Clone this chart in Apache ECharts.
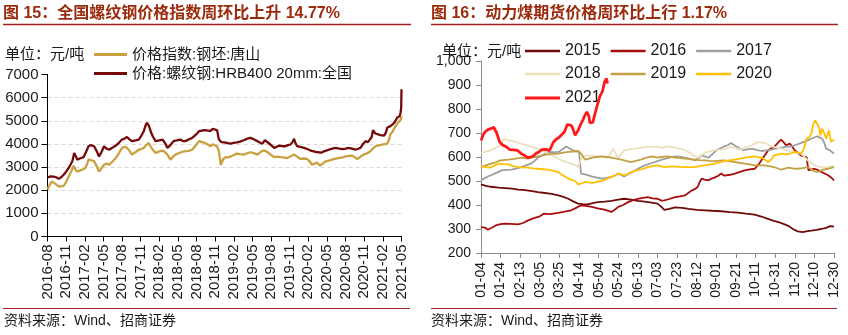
<!DOCTYPE html>
<html><head><meta charset="utf-8">
<script src="https://cdn.jsdelivr.net/npm/echarts@6/dist/echarts.min.js"></script>
<style>html,body{margin:0;padding:0;background:#fff}#c{width:848px;height:335px}</style>
</head><body><div id="c"></div>
<script>
// ---------- Data: left chart (month index 0 = 2016-08) ----------
const leftTickLabels = ['2016-08','2016-11','2017-02','2017-05','2017-08','2017-11','2018-02','2018-05','2018-08','2018-11','2019-02','2019-05','2019-08','2019-11','2020-02','2020-05','2020-08','2020-11','2021-02','2021-05'];
const leftSeriesNames = ['价格指数:钢坯:唐山','价格:螺纹钢:HRB400 20mm:全国'];
const billetTangshan = [[0,2030],[0.3,2200],[0.7,2380],[1.0,2330],[1.4,2250],[1.8,2160],[2.2,2170],[2.6,2190],[3.0,2350],[3.4,2590],[3.8,2800],[4.2,3060],[4.5,2900],[4.7,2810],[5.2,2850],[5.6,2880],[6.1,2960],[6.4,3150],[6.6,3320],[7.0,3300],[7.5,3250],[7.9,3050],[8.3,2810],[8.7,2950],[9.1,3100],[9.5,3150],[9.9,3100],[10.5,3250],[11.0,3390],[11.5,3600],[12.0,3830],[12.4,3880],[12.8,3830],[13.2,3700],[13.6,3540],[14.2,3650],[14.7,3750],[15.1,3780],[15.5,3830],[15.9,3950],[16.3,4040],[16.8,3800],[17.4,3610],[18.0,3680],[18.5,3710],[18.9,3650],[19.3,3540],[19.8,3320],[20.2,3450],[20.6,3540],[21.3,3620],[22.0,3680],[22.7,3700],[23.3,3750],[23.9,3950],[24.4,4120],[24.9,4080],[25.4,4040],[25.8,3980],[26.2,3900],[26.6,3980],[26.9,4040],[27.3,3900],[27.6,3680],[27.9,3100],[28.3,3350],[28.7,3430],[29.1,3420],[29.5,3460],[30.0,3520],[30.5,3580],[31.0,3560],[31.6,3540],[32.2,3600],[32.7,3640],[33.2,3600],[33.8,3540],[34.3,3650],[34.8,3720],[35.2,3680],[35.6,3610],[36.0,3520],[36.5,3430],[37.0,3450],[37.5,3430],[38.0,3420],[38.6,3390],[39.1,3460],[39.7,3540],[40.2,3450],[40.7,3350],[41.2,3370],[41.8,3350],[42.2,3250],[42.6,3100],[43.0,3150],[43.4,3200],[43.9,3060],[44.3,3150],[44.8,3250],[45.3,3280],[45.8,3320],[46.4,3360],[46.9,3390],[47.5,3420],[48.0,3460],[48.5,3480],[49.1,3490],[49.5,3420],[49.9,3350],[50.4,3450],[50.9,3540],[51.5,3600],[52.0,3680],[52.4,3800],[52.8,3900],[53.3,3940],[53.9,3970],[54.3,3990],[54.7,4010],[55.0,4200],[55.2,4410],[55.6,4550],[55.9,4700],[56.4,4910],[56.9,5060],[57.0,5200]];
const rebarHRB400 = [[0,2550],[0.5,2600],[1.0,2590],[1.4,2560],[1.8,2490],[2.2,2560],[2.6,2670],[3.0,2800],[3.4,2960],[3.7,3100],[4.0,3250],[4.3,3610],[4.6,3450],[4.8,3320],[5.3,3380],[5.8,3430],[6.2,3650],[6.6,3900],[7.0,3950],[7.5,3900],[7.9,3700],[8.3,3460],[8.7,3650],[9.1,3900],[9.5,3800],[9.9,3750],[10.5,3850],[11.0,3930],[11.5,4050],[12.0,4190],[12.4,4230],[12.8,4300],[13.2,4200],[13.6,4120],[14.2,4150],[14.7,4190],[15.1,4350],[15.5,4550],[15.8,4800],[16.0,4910],[16.3,4800],[16.7,4480],[17.0,4300],[17.4,4120],[18.0,4150],[18.5,4190],[18.9,4050],[19.3,3830],[19.8,3950],[20.3,4120],[20.8,4150],[21.4,4190],[21.8,4120],[22.2,4120],[22.8,4200],[23.3,4260],[23.9,4400],[24.4,4550],[24.9,4580],[25.4,4600],[25.8,4580],[26.2,4550],[26.6,4650],[26.9,4720],[27.3,4600],[27.6,4190],[28.0,4080],[28.4,4070],[29.0,4040],[29.5,4010],[30.0,4050],[30.5,4070],[31.0,4100],[31.6,4160],[32.2,4230],[32.7,4260],[33.2,4200],[33.8,4120],[34.2,4060],[34.6,4010],[35.0,4160],[35.3,4100],[35.6,4040],[36.0,3950],[36.5,3830],[36.9,3880],[37.3,3930],[37.8,3900],[38.3,3900],[38.7,3950],[39.1,3970],[39.5,4100],[39.7,4220],[39.9,4050],[40.2,3900],[40.7,3870],[41.3,3830],[41.7,3790],[42.1,3750],[42.5,3700],[42.9,3680],[43.3,3650],[43.7,3640],[44.1,3620],[44.5,3680],[45.0,3720],[45.6,3780],[46.0,3810],[46.4,3830],[47.0,3800],[47.5,3780],[48.0,3800],[48.5,3830],[49.0,3800],[49.6,3750],[50.0,3790],[50.4,3830],[50.8,4000],[51.2,4120],[51.6,4080],[51.9,4040],[52.2,4300],[52.4,4590],[52.8,4450],[53.1,4410],[53.6,4380],[54.2,4360],[54.5,4500],[54.7,4700],[55.0,4740],[55.2,4770],[55.6,4850],[55.9,4940],[56.3,5130],[56.7,5200],[56.85,5350],[56.95,5560],[57.0,6360]];

// ---------- Data: right chart (day index 0 = 01-04) ----------
const rightTickLabels = ['01-04','01-24','02-13','03-05','03-25','04-14','05-04','05-24','06-13','07-03','07-23','08-12','09-01','09-21','10-11','10-31','11-20','12-10','12-30'];
const yearNames = ['2015','2016','2017','2018','2019','2020','2021'];
const coal2015 = [[0,486],[5,480],[10,476],[18,472],[25,470],[32,468],[38,464],[45,462],[52,458],[58,454],[65,450],[72,446],[79,440],[84,434],[89,426],[94,415],[99,406],[104,404],[109,403],[114,408],[119,412],[126,414],[133,417],[140,422],[146,426],[153,422],[160,417],[167,414],[174,410],[180,406],[184,392],[187,380],[192,384],[198,390],[205,388],[212,384],[220,380],[228,378],[236,376],[245,374],[254,370],[262,368],[270,364],[279,360],[286,352],[292,343],[298,335],[304,328],[309,320],[314,312],[318,300],[323,290],[328,287],[333,291],[337,293],[342,296],[347,300],[352,305],[356,312],[360,310]];
const coal2016 = [[0,308],[4,306],[7,297],[11,305],[15,315],[20,320],[24,322],[30,321],[38,319],[43,325],[48,336],[54,345],[60,353],[64,364],[70,362],[79,367],[85,372],[92,378],[97,388],[102,399],[107,396],[113,392],[119,386],[126,381],[133,371],[137,382],[140,392],[145,400],[150,412],[155,420],[160,426],[165,430],[170,433],[175,428],[180,426],[184,418],[187,419],[192,425],[198,433],[203,436],[208,440],[212,452],[215,461],[218,466],[221,475],[223,495],[225,510],[228,506],[232,503],[235,510],[238,514],[242,522],[245,531],[248,522],[250,517],[254,526],[259,531],[264,538],[269,544],[274,548],[279,551],[283,568],[286,586],[290,610],[293,628],[296,636],[299,642],[303,660],[306,672],[309,660],[311,649],[313,655],[315,656],[318,640],[320,628],[323,618],[326,607],[329,603],[332,600],[333,570],[334,544],[337,548],[340,551],[344,545],[347,538],[351,530],[354,524],[357,515],[360,503]];
const coal2017 = [[0,503],[4,512],[7,519],[11,525],[14,531],[21,544],[26,546],[31,547],[36,552],[41,558],[46,565],[51,572],[55,585],[58,597],[63,608],[68,621],[74,620],[79,621],[83,632],[87,644],[90,636],[94,628],[97,624],[100,621],[102,531],[106,528],[113,519],[118,514],[123,510],[128,513],[133,517],[137,524],[140,531],[143,525],[146,519],[151,530],[157,544],[162,555],[167,565],[174,575],[180,583],[187,592],[192,597],[198,603],[204,600],[208,597],[213,592],[218,586],[222,596],[225,607],[229,602],[232,597],[236,612],[240,628],[244,636],[248,644],[252,650],[255,658],[258,650],[260,642],[264,635],[267,628],[272,632],[276,635],[281,630],[286,625],[291,628],[296,631],[301,635],[306,639],[311,642],[316,644],[321,650],[326,658],[330,664],[333,669],[338,678],[343,686],[348,676],[350,660],[352,635],[355,630],[357,628],[360,614]];
const coal2018 = [[0,617],[5,622],[10,628],[15,638],[20,649],[23,676],[27,670],[31,667],[36,662],[41,656],[46,650],[52,642],[57,636],[62,628],[67,618],[72,607],[77,598],[82,586],[87,580],[92,572],[96,565],[99,558],[101,557],[103,600],[109,607],[114,605],[119,603],[124,600],[129,597],[132,615],[135,635],[137,615],[140,597],[143,612],[146,628],[151,632],[157,635],[162,638],[167,642],[174,642],[180,642],[185,638],[190,644],[198,639],[204,634],[208,628],[212,620],[215,611],[218,604],[221,597],[225,608],[228,617],[234,625],[240,630],[245,631],[250,636],[255,642],[260,636],[265,631],[270,640],[276,649],[282,662],[286,660],[290,658],[296,644],[302,639],[308,634],[313,628],[318,620],[320,617],[326,614],[330,600],[333,586],[337,575],[340,565],[344,560],[347,558],[352,556],[356,560],[360,562]];
const coal2019 = [[0,558],[5,565],[10,572],[15,578],[20,586],[28,589],[34,592],[41,597],[48,593],[53,598],[58,603],[63,607],[68,611],[74,613],[79,614],[84,618],[89,621],[94,623],[99,625],[102,615],[106,589],[110,593],[113,597],[118,600],[123,603],[128,600],[133,597],[138,593],[143,589],[148,584],[153,579],[158,584],[163,589],[168,596],[174,603],[180,597],[184,600],[190,603],[198,597],[203,595],[208,593],[213,591],[218,589],[223,587],[228,586],[233,584],[238,583],[243,585],[248,586],[254,582],[259,579],[264,576],[269,572],[274,569],[279,565],[284,565],[289,565],[294,562],[299,558],[303,552],[306,547],[310,552],[313,556],[318,553],[323,551],[328,554],[333,558],[337,548],[340,540],[344,538],[347,544],[350,548],[354,551],[357,555],[360,558]];
const coal2020 = [[0,561],[5,558],[10,556],[14,565],[18,572],[23,570],[28,569],[33,562],[38,558],[43,557],[48,556],[53,553],[58,551],[63,549],[68,547],[74,542],[79,537],[82,527],[84,519],[89,510],[92,505],[96,500],[99,486],[103,491],[106,496],[110,494],[113,492],[118,496],[123,500],[128,508],[133,517],[137,524],[140,531],[143,528],[146,524],[150,530],[153,537],[157,542],[160,545],[165,550],[170,558],[175,562],[180,565],[187,558],[192,560],[198,561],[203,559],[208,558],[213,558],[218,558],[223,562],[228,565],[233,568],[238,572],[243,578],[248,583],[253,586],[259,589],[264,593],[269,597],[274,600],[279,603],[284,598],[288,593],[293,579],[296,590],[299,607],[303,611],[306,614],[311,611],[316,615],[320,621],[323,618],[326,614],[329,630],[332,676],[335,683],[337,700],[339,739],[341,752],[343,760],[345,720],[346,690],[348,718],[350,700],[352,676],[355,711],[357,663],[360,672]];
const coal2021 = [[0,669],[2,690],[4,704],[7,714],[10,718],[13,724],[14,725],[16,700],[19,663],[22,650],[26,642],[29,631],[33,630],[37,628],[41,614],[45,605],[48,597],[50,599],[53,603],[56,615],[59,621],[62,631],[66,632],[70,628],[74,663],[77,675],[80,683],[85,704],[88,735],[92,732],[94,715],[96,690],[99,711],[102,739],[104,755],[106,774],[108,788],[110,770],[111,742],[114,744],[116,746],[118,808],[121,850],[124,875],[126,913],[128,927],[129,906]];

// ---------- Text ----------
const titleLeft = '图 15：全国螺纹钢价格指数周环比上升 14.77%';
const titleRight = '图 16：动力煤期货价格周环比上行 1.17%';
const unitText = '单位：元/吨';
const sourceText = '资料来源：Wind、招商证券';

const FONT = '"Liberation Sans", Arial, "Noto Sans CJK SC", sans-serif';
const TITLE_COLOR = '#9C2B0E';
const RULE_COLOR = '#A32020';

const coalColors = ['#6E0B0B','#A80C0C','#9E9E9E','#EDE0BC','#C4A045','#FFC000','#FF1A1A'];
const coalData = [coal2015, coal2016, coal2017, coal2018, coal2019, coal2020, coal2021];

const chart = echarts.init(document.getElementById('c'), null, {renderer: 'canvas'});

const rightSeries = yearNames.map((n, i) => ({
  name: n, type: 'line', xAxisIndex: 1, yAxisIndex: 1,
  data: coalData[i], symbol: 'none', showSymbol: false, smooth: false,
  lineStyle: {color: coalColors[i], width: i === 6 ? 2.8 : 1.8},
  itemStyle: {color: coalColors[i]},
  z: 2 + i
}));

function mkLegend(names, left, top, itemWidth, fontSize, lh) {
  return {
    show: true, type: 'plain', orient: 'horizontal', data: names, left: left, top: top,
    padding: 0, selectedMode: false, icon: 'rect', itemWidth: itemWidth, itemHeight: lh, itemGap: 10,
    textStyle: {fontFamily: FONT, fontSize: fontSize, color: '#1a1a1a'}
  };
}

const option = {
  animation: false,
  backgroundColor: '#fff',
  title: [
    {text: titleLeft, left: 3, top: 6, padding: 0,
     textStyle: {fontFamily: FONT, fontSize: 16, fontWeight: 'bold', color: TITLE_COLOR}},
    {text: titleRight, left: 431, top: 6, padding: 0,
     textStyle: {fontFamily: FONT, fontSize: 16, fontWeight: 'bold', color: TITLE_COLOR}}
  ],
  legend: [
    mkLegend([leftSeriesNames[0]], 94, 47, 33, 15, 3),
    mkLegend([leftSeriesNames[1]], 94, 66, 33, 15, 3),
    mkLegend(yearNames.slice(0, 3), 525, 43, 35, 16, 2.6),
    mkLegend(yearNames.slice(3, 6), 525, 66, 35, 16, 2.6),
    mkLegend(yearNames.slice(6), 525, 90, 35, 16, 3)
  ],
  grid: [
    {left: 47.5, top: 74.5, width: 354, height: 162, containLabel: false, outerBoundsMode: 'none'},
    {left: 481, top: 61, width: 353, height: 192, containLabel: false, outerBoundsMode: 'none'}
  ],
  xAxis: [
    {type: 'value', gridIndex: 0, min: 0, max: 57, interval: 3,
     axisLine: {show: true, onZero: false, lineStyle: {color: '#000', width: 1}},
     axisTick: {show: true, length: 5, lineStyle: {color: '#000'}},
     splitLine: {show: false},
     axisLabel: {rotate: 90, margin: 8, fontFamily: FONT, fontSize: 15, color: '#1a1a1a',
       formatter: v => leftTickLabels[Math.round(v / 3)] || ''}},
    {type: 'value', gridIndex: 1, min: 0, max: 360, interval: 20,
     axisLine: {show: true, onZero: false, lineStyle: {color: '#8c8c8c', width: 1}},
     axisTick: {show: true, length: 5, lineStyle: {color: '#8c8c8c'}},
     splitLine: {show: false},
     axisLabel: {rotate: 90, margin: 9, fontFamily: FONT, fontSize: 14, color: '#1a1a1a',
       formatter: v => rightTickLabels[Math.round(v / 20)] || ''}}
  ],
  yAxis: [
    {type: 'value', gridIndex: 0, min: 0, max: 7000, interval: 1000,
     axisLine: {show: true, lineStyle: {color: '#000', width: 1}},
     axisTick: {show: true, length: 6, lineStyle: {color: '#000'}},
     splitLine: {show: true, showMaxLine: false, showMinLine: false, lineStyle: {color: '#dadada', type: [4, 3], width: 1}},
     axisLabel: {margin: 9, fontFamily: FONT, fontSize: 15, color: '#1a1a1a', formatter: v => String(v)}},
    {type: 'value', gridIndex: 1, min: 200, max: 1000, interval: 100,
     axisLine: {show: true, lineStyle: {color: '#8c8c8c', width: 1}},
     axisTick: {show: true, length: 5, lineStyle: {color: '#8c8c8c'}},
     splitLine: {show: false},
     axisLabel: {margin: 10, fontFamily: FONT, fontSize: 14, color: '#1a1a1a',
       formatter: v => v >= 1000 ? '1,000' : String(v)}}
  ],
  series: [
    {name: leftSeriesNames[0], type: 'line', xAxisIndex: 0, yAxisIndex: 0, data: billetTangshan,
     symbol: 'none', showSymbol: false, lineStyle: {color: '#C9A13F', width: 2.3}, itemStyle: {color: '#C9A13F'}},
    {name: leftSeriesNames[1], type: 'line', xAxisIndex: 0, yAxisIndex: 0, data: rebarHRB400,
     symbol: 'none', showSymbol: false, lineStyle: {color: '#760A0A', width: 2.3}, itemStyle: {color: '#760A0A'}}
  ].concat(rightSeries),
  graphic: [
    {type: 'line', shape: {x1: 3, y1: 24.5, x2: 411, y2: 24.5}, style: {stroke: RULE_COLOR, lineWidth: 1.5}, silent: true},
    {type: 'line', shape: {x1: 431, y1: 24.5, x2: 838, y2: 24.5}, style: {stroke: RULE_COLOR, lineWidth: 1.5}, silent: true},
    {type: 'line', shape: {x1: 3, y1: 308.5, x2: 410, y2: 308.5}, style: {stroke: RULE_COLOR, lineWidth: 1.2}, silent: true},
    {type: 'line', shape: {x1: 431, y1: 308.5, x2: 837, y2: 308.5}, style: {stroke: RULE_COLOR, lineWidth: 1.2}, silent: true},
    {type: 'text', x: 4, y: 321, silent: true,
     style: {text: sourceText, font: '14px ' + FONT, fill: '#1a1a1a', verticalAlign: 'middle'}},
    {type: 'text', x: 431, y: 321, silent: true,
     style: {text: sourceText, font: '14px ' + FONT, fill: '#1a1a1a', verticalAlign: 'middle'}},
    {type: 'text', x: 5, y: 55, silent: true,
     style: {text: unitText, font: '15px ' + FONT, fill: '#1a1a1a', verticalAlign: 'middle'}},
    {type: 'text', x: 442, y: 52, silent: true,
     style: {text: unitText, font: '15px ' + FONT, fill: '#1a1a1a', verticalAlign: 'middle'}}
  ]
};
chart.setOption(option);
</script>
</body></html>
